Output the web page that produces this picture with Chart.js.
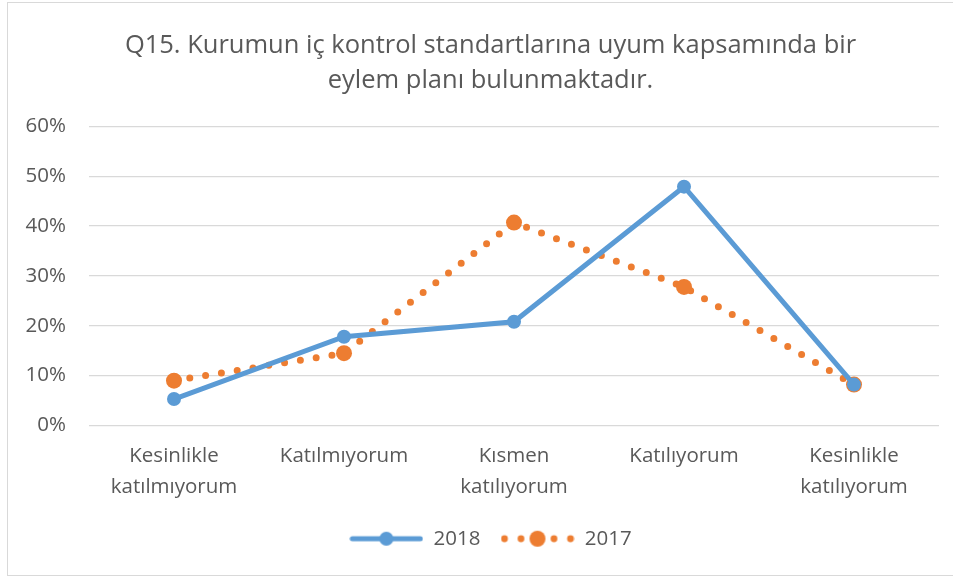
<!DOCTYPE html>
<html>
<head>
<meta charset="utf-8">
<script src="https://cdn.jsdelivr.net/npm/chart.js@4"></script>
<style>
  html, body { margin: 0; padding: 0; background: #fff; overflow: hidden; }
  #box { position: absolute; left: 7px; top: 2px; width: 960px; height: 572px; border: 1px solid #d9d9d9; }
</style>
</head>
<body>
<div id="box"><canvas id="mychart" width="960" height="572"></canvas></div>
<script>
// Dữ liệu biểu đồ
const categories = [
  ["Kesinlikle", "katılmıyorum"],
  "Katılmıyorum",
  ["Kısmen", "katılıyorum"],
  "Katılıyorum",
  ["Kesinlikle", "katılıyorum"],
];
const values2018 = [5.3, 17.8, 20.8, 47.9, 8.2];
const values2017 = [9.0, 14.5, 40.7, 27.8, 8.2];
const yTicks = [0, 10, 20, 30, 40, 50, 60];

const blue = "#5B9BD5";
const orange = "#ED7D31";
const textColor = "#595959";
const fontName = "'Open Sans', sans-serif";

// Biểu tượng chú thích: đường + điểm
function legendIcon(dotted, color) {
  const c = document.createElement("canvas");
  c.width = 74;
  c.height = 20;
  const g = c.getContext("2d");
  g.fillStyle = color;
  g.strokeStyle = color;
  if (!dotted) {
    g.lineWidth = 5;
    g.lineCap = "round";
    g.beginPath();
    g.moveTo(3, 10);
    g.lineTo(71, 10);
    g.stroke();
    g.beginPath();
    g.arc(37, 10, 7, 0, Math.PI * 2);
    g.fill();
  } else {
    [4, 20.5, 53.5, 70].forEach((x) => {
      g.beginPath();
      g.arc(x, 10, 3.4, 0, Math.PI * 2);
      g.fill();
    });
    g.beginPath();
    g.arc(37, 10, 8, 0, Math.PI * 2);
    g.fill();
  }
  return c;
}
const icons = [legendIcon(false, blue), legendIcon(true, orange)];

// Dịch tiêu đề và chú thích sang phải một chút
const shiftPlugin = {
  id: "shiftBlocks",
  afterLayout(chart) {
    [chart.titleBlock, chart.legend].forEach((b) => {
      if (b) {
        b.left += 17;
        b.right += 17;
      }
    });
  },
};

const ctx = document.getElementById("mychart").getContext("2d");
const mychart = new Chart(ctx, {
  type: "line",
  data: {
    labels: categories,
    datasets: [
      {
        label: "2018",
        data: values2018,
        borderColor: blue,
        backgroundColor: blue,
        borderWidth: 5,
        pointRadius: 7,
        pointBorderWidth: 0,
        pointHoverRadius: 7,
        tension: 0,
      },
      {
        label: "2017",
        data: values2017,
        borderColor: orange,
        backgroundColor: orange,
        borderWidth: 7,
        borderDash: [0, 16],
        borderCapStyle: "round",
        pointRadius: 8,
        pointBorderWidth: 0,
        pointHoverRadius: 8,
        tension: 0,
      },
    ],
  },
  plugins: [shiftPlugin],
  options: {
    responsive: false,
    animation: false,
    layout: { padding: { left: 0, right: 29, top: 0, bottom: 16 } },
    plugins: {
      tooltip: { enabled: false },
      title: {
        display: true,
        text: [
          "Q15. Kurumun iç kontrol standartlarına uyum kapsamında bir",
          "eylem planı bulunmaktadır.",
        ],
        color: textColor,
        font: { family: fontName, size: 25.5, weight: "normal", lineHeight: 1.34 },
        padding: { top: 26, bottom: 29 },
      },
      legend: {
        position: "bottom",
        labels: {
          color: textColor,
          font: { family: fontName, size: 20.5 },
          usePointStyle: true,
          pointStyleWidth: 74,
          padding: 20,
          generateLabels: (chart) =>
            Chart.defaults.plugins.legend.labels.generateLabels(chart).map((item, i) => {
              item.pointStyle = icons[i];
              return item;
            }),
        },
      },
    },
    scales: {
      x: {
        offset: true,
        grid: { display: false, drawTicks: false },
        border: { display: false },
        ticks: {
          color: textColor,
          font: { family: fontName, size: 20.5, lineHeight: 1.47 },
          padding: 16,
          maxRotation: 0,
          autoSkip: false,
        },
        afterFit: (s) => {
          const ch = s.chart;
          s.height = ch.height - 16 - ch.legend.height - 422.5;
        },
      },
      y: {
        min: 0,
        max: 60,
        afterBuildTicks: (s) => {
          s.ticks = yTicks.map((v) => ({ value: v }));
        },
        grid: { color: "#d9d9d9", lineWidth: 1.3, drawTicks: false },
        border: { display: false },
        ticks: {
          color: textColor,
          font: { family: fontName, size: 20.5 },
          padding: 23,
          callback: (v) => v + "%",
        },
        afterFit: (s) => {
          s.width = 81;
        },
      },
    },
  },
});
</script>
</body>
</html>
